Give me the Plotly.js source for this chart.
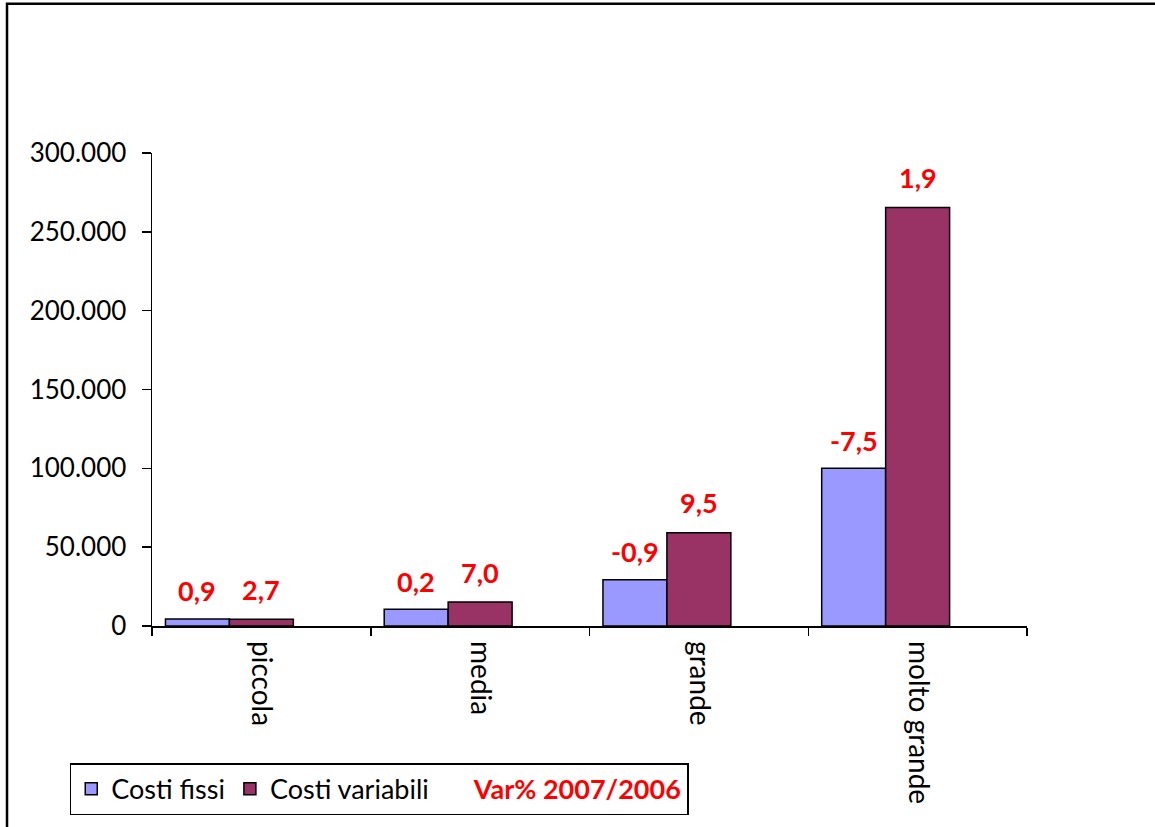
<!DOCTYPE html>
<html><head><meta charset="utf-8">
<script src="https://cdn.plot.ly/plotly-3.0.1.min.js"></script>
<style>html,body{margin:0;padding:0;background:#fff}#chart{width:1155px;height:827px}</style>
</head><body><div id="chart"></div>
<script>
const categories = ["piccola", "media", "grande", "molto grande"];
const costiFissi = [4500, 10700, 29300, 100000];
const costiVariabili = [4300, 15200, 59200, 265500];
const varFissi = ["0,9", "0,2", "-0,9", "-7,5"];
const varVariabili = ["2,7", "7,0", "9,5", "1,9"];
const seriesNames = ["Costi fissi", "Costi variabili", "Var% 2007/2006"];
const varSeries = [null, null, null, null];

const FONT = "Lato, 'Open Sans', sans-serif";

const traces = [
  {type: "bar", name: seriesNames[0], x: categories, y: costiFissi,
   marker: {color: "#9999FF", line: {color: "#000", width: 1.5}}},
  {type: "bar", name: seriesNames[1], x: categories, y: costiVariabili,
   marker: {color: "#993366", line: {color: "#000", width: 1.5}}},
  {type: "bar", name: "<b><span style='color:#FF0000'>" + seriesNames[2] + "</span></b>",
   x: categories, y: varSeries,
   marker: {color: "rgba(0,0,0,0)", line: {color: "rgba(0,0,0,0)", width: 0}}, hoverinfo: "skip"}
];

const annotations = [];
categories.forEach((c, i) => {
  annotations.push({x: c, y: costiFissi[i], xref: "x", yref: "y", text: "<b>" + varFissi[i] + "</b>",
    showarrow: false, xshift: -64, yshift: 28, yanchor: "middle",
    font: {family: FONT, size: 27, color: "#FF0000"}});
  annotations.push({x: c, y: costiVariabili[i], xref: "x", yref: "y", text: "<b>" + varVariabili[i] + "</b>",
    showarrow: false, xshift: 0, yshift: 30, yanchor: "middle",
    font: {family: FONT, size: 27, color: "#FF0000"}});
});

const layout = {
  width: 1155, height: 827,
  margin: {l: 152, r: 128, t: 153, b: 199, pad: 0},
  paper_bgcolor: "#fff", plot_bgcolor: "#fff",
  separators: ",.",
  font: {family: FONT, size: 26, color: "#000"},
  barmode: "group", bargap: 0.123, bargroupgap: 0,
  xaxis: {type: "category", showline: true, linecolor: "#000", linewidth: 1.5,
    ticks: "outside", tickson: "boundaries", ticklen: 8, tickcolor: "#000", tickwidth: 1.5,
    tickangle: 90, ticklabelstandoff: 8, tickfont: {family: FONT, size: 28, color: "#000"},
    showgrid: false, zeroline: false, fixedrange: true},
  yaxis: {range: [0, 300000], dtick: 50000, tickformat: ",d", showline: true, linecolor: "#000", linewidth: 1.5,
    ticks: "outside", ticklen: 9, tickcolor: "#000", tickwidth: 1.5, ticklabelstandoff: 10,
    tickfont: {family: FONT, size: 26, color: "#000"},
    showgrid: false, zeroline: false, fixedrange: true},
  showlegend: true,
  legend: {orientation: "h", x: -0.094, xanchor: "left", y: -0.4, yanchor: "bottom",
    bordercolor: "#000", borderwidth: 1.5, bgcolor: "#fff",
    font: {family: FONT, size: 27, color: "#000"}, tracegroupgap: 0},
  annotations: annotations,
  shapes: [
    {type: "rect", xref: "paper", yref: "paper", x0: -0.1657, x1: 1.6, y0: -1.0, y1: 1.3158,
     line: {color: "#000", width: 2.5}, fillcolor: "rgba(0,0,0,0)", layer: "below"}
  ]
};

Plotly.newPlot("chart", traces, layout, {displayModeBar: false, staticPlot: true});
</script></body></html>
